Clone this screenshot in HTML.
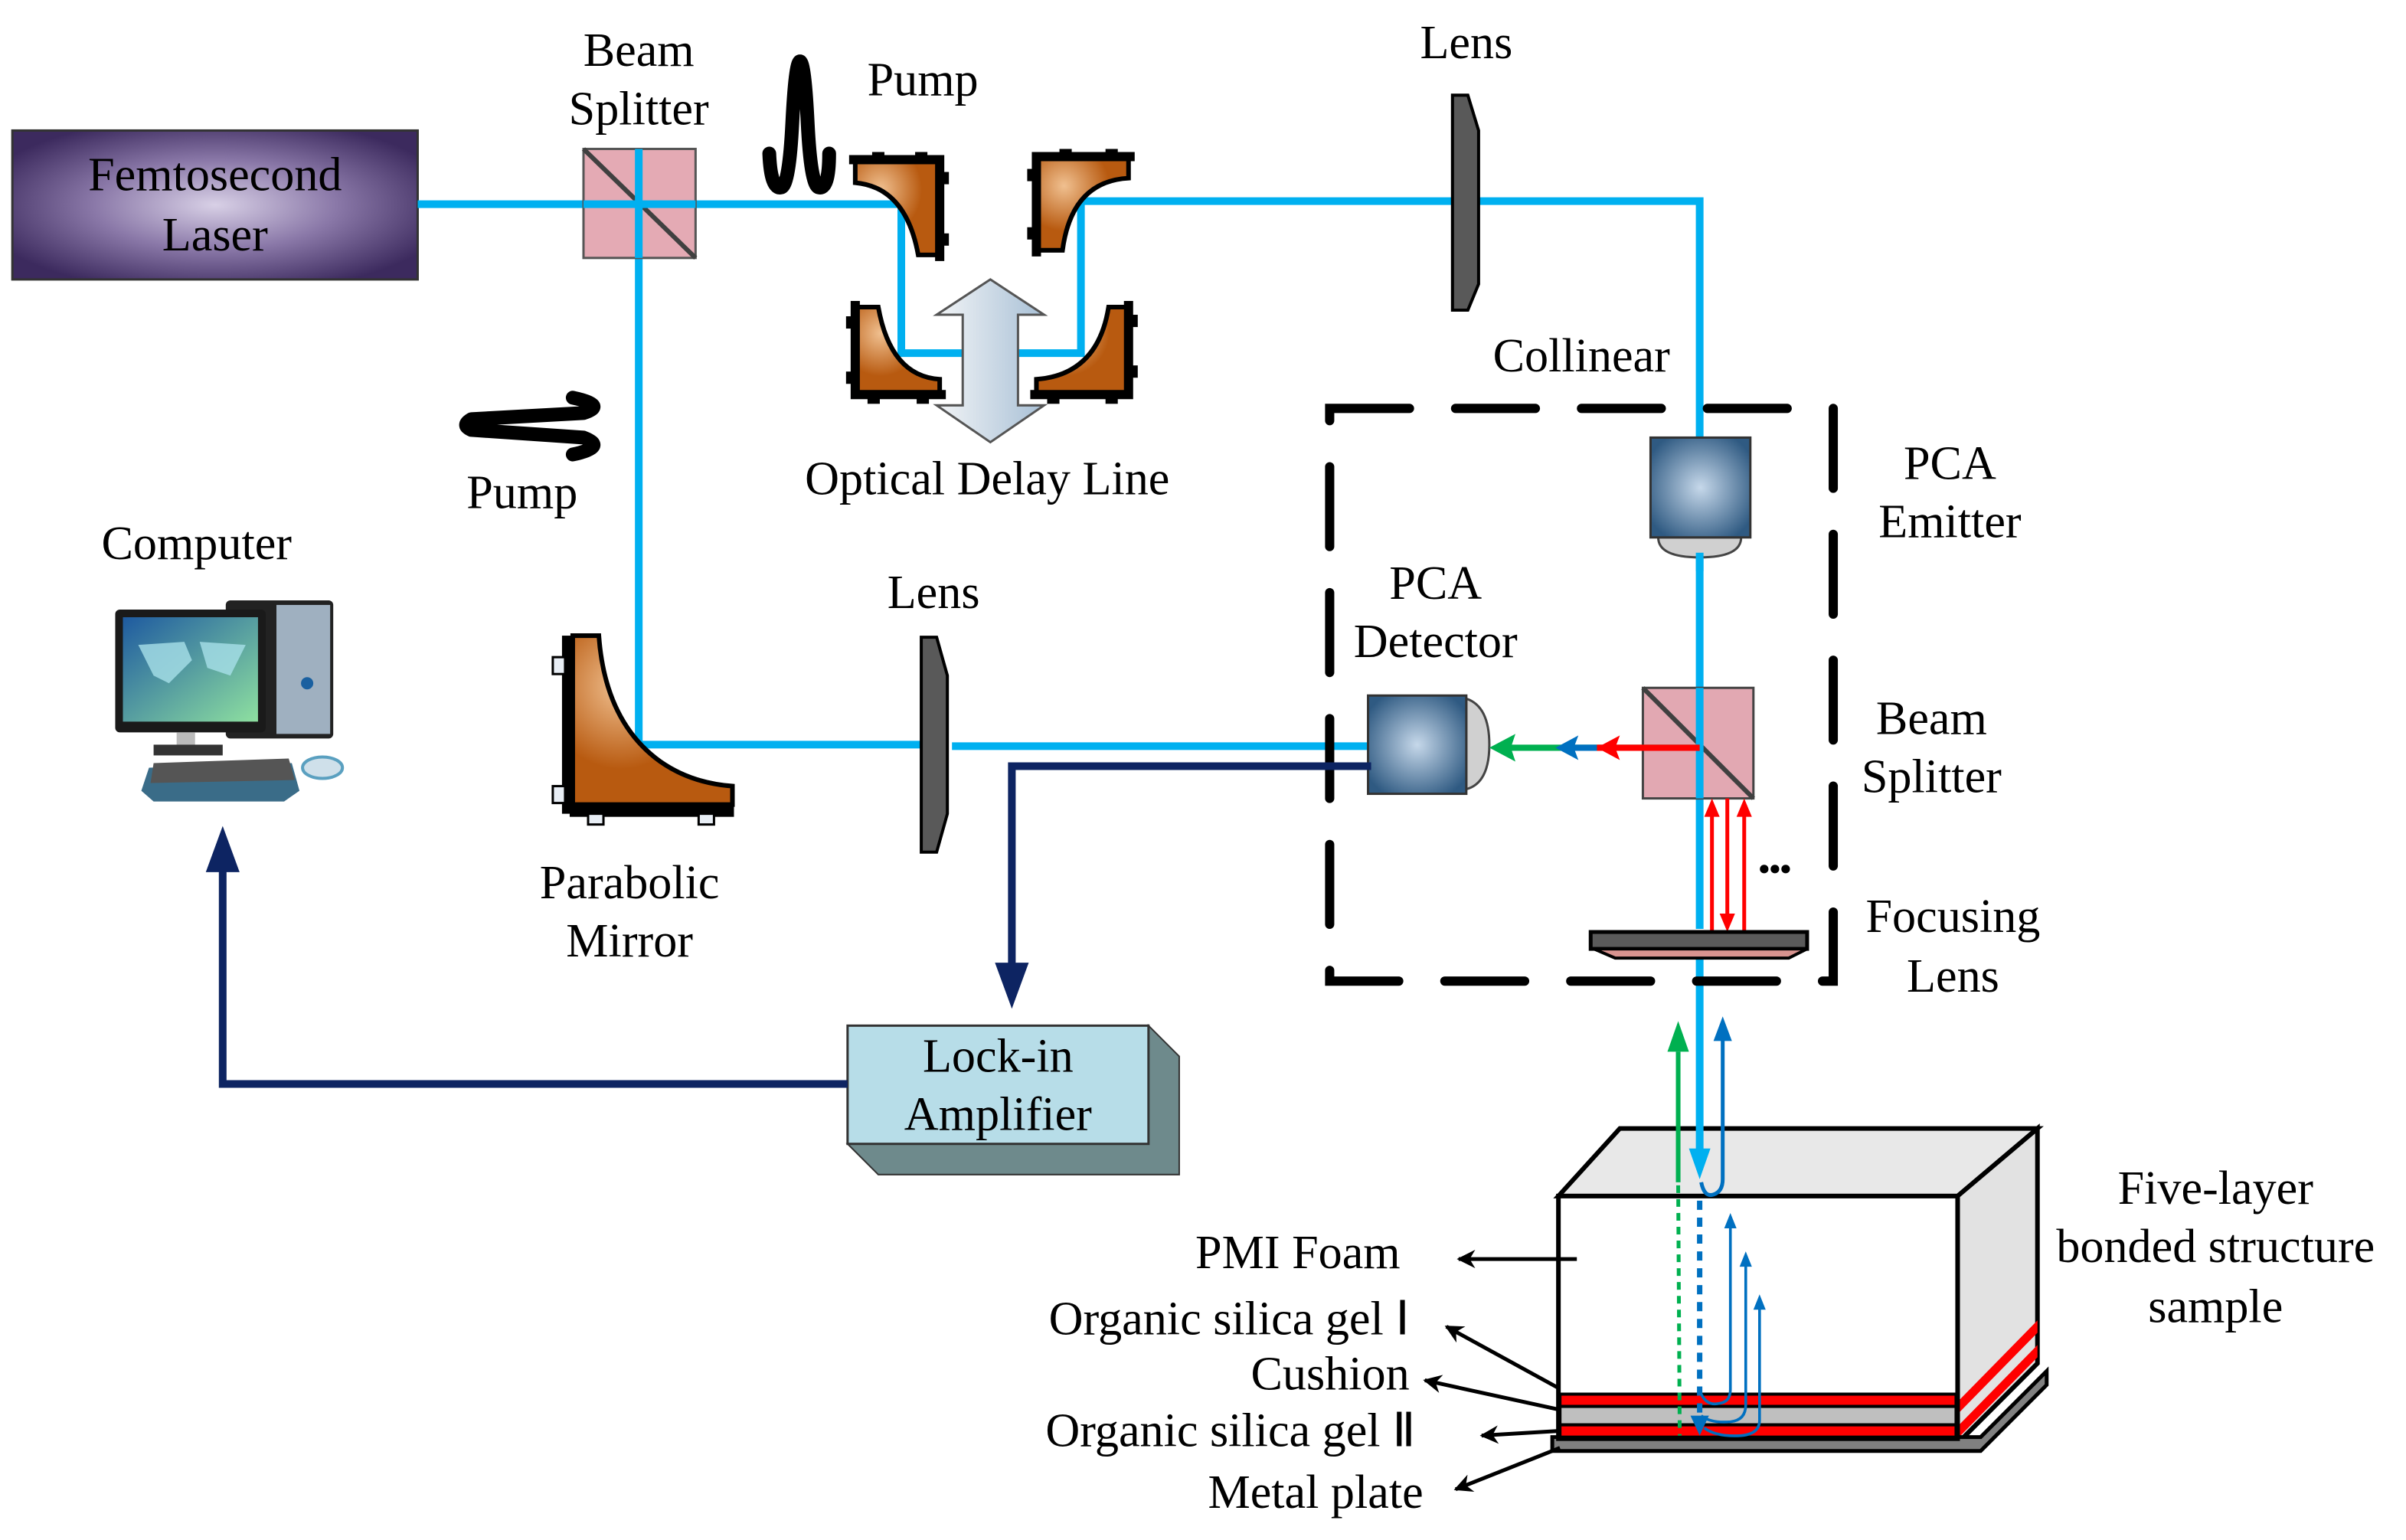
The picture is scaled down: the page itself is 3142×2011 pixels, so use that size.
<!DOCTYPE html>
<html><head><meta charset="utf-8"><style>html,body{margin:0;padding:0;background:#fff}svg{display:block}text{font-family:"Liberation Serif",serif;font-size:31px;fill:#000}</style></head>
<body>
<svg width="3142" height="2011" viewBox="0 0 1567 1003" xmlns="http://www.w3.org/2000/svg">
<defs>
<radialGradient id="laser" cx="50%" cy="50%" r="60%"><stop offset="0" stop-color="#d8d0e6"/><stop offset="0.5" stop-color="#8a78a8"/><stop offset="1" stop-color="#3c2a5e"/></radialGradient>
<radialGradient id="pca" cx="50%" cy="50%" r="60%"><stop offset="0" stop-color="#c6d8ea"/><stop offset="1" stop-color="#2f5a82"/></radialGradient>
<radialGradient id="cu" cx="30%" cy="30%" r="70%"><stop offset="0" stop-color="#f0c090"/><stop offset="0.7" stop-color="#b85a10"/></radialGradient>
<linearGradient id="arr" x1="0" x2="1"><stop offset="0" stop-color="#f2f4f6"/><stop offset="1" stop-color="#a8c0d6"/></linearGradient>
<linearGradient id="scr" x1="0" y1="0" x2="1" y2="1"><stop offset="0" stop-color="#1e5aa0"/><stop offset="1" stop-color="#8ee0a0"/></linearGradient>
<marker id="mk" viewBox="0 0 10 10" refX="9" refY="5" markerWidth="14" markerHeight="12" orient="auto-start-reverse" markerUnits="userSpaceOnUse"><path d="M0,0 L10,5 L0,10 L3,5Z" fill="#000"/></marker>
</defs>

<rect x="8" y="85" width="264" height="97" fill="url(#laser)" stroke="#333" stroke-width="1.5"/>
<text x="140" y="124" text-anchor="middle">Femtosecond</text>
<text x="140" y="163" text-anchor="middle">Laser</text>

<g stroke="#00b0f0" stroke-width="5" fill="none">
<polyline points="272,133 587,133 587,230 704,230 704,131 1107,131 1107,290"/>
<line x1="1107" y1="360" x2="1107" y2="605"/>
<line x1="1107" y1="622" x2="1107" y2="700"/>
<polyline points="416,133 416,485 600,485"/>
<line x1="620" y1="486" x2="893" y2="486"/>
</g>

<rect x="380" y="97" width="73" height="71" fill="#e4aab4" stroke="#555" stroke-width="1.5"/>
<line x1="380" y1="97" x2="453" y2="168" stroke="#404040" stroke-width="3"/>
<line x1="416" y1="97" x2="416" y2="168" stroke="#00b0f0" stroke-width="5"/>
<line x1="380" y1="133" x2="453" y2="133" stroke="#00b0f0" stroke-width="5"/>
<text x="416" y="43" text-anchor="middle">Beam</text>
<text x="416" y="81" text-anchor="middle">Splitter</text>

<path d="M501,100 Q502,124 509,122 Q514,120 516,80 Q518,40 521,40 Q524,40 526,80 Q528,120 533,122 Q540,124 540,100" stroke="#000" stroke-width="9" fill="none" stroke-linecap="round" stroke-linejoin="round"/>
<text x="601" y="62" text-anchor="middle">Pump</text>
<path d="M373,259 Q396,264 380,269 L307,273 Q300,277 307,280 L380,285 Q396,291 373,296" stroke="#000" stroke-width="9" fill="none" stroke-linecap="round" stroke-linejoin="round"/>
<text x="340" y="331" text-anchor="middle">Pump</text>

<g stroke="#000" stroke-width="3" fill="url(#cu)">
<path d="M557,105 L612,105 L612,166 L598,166 Q590,122 557,119Z"/>
<path d="M735,103 L675,103 L675,163 L692,163 Q698,118 735,116Z"/>
<path d="M557,200 L572,200 Q580,245 612,247 L612,257 L557,257Z"/>
<path d="M735,200 L722,200 Q715,244 675,247 L675,257 L735,257Z"/>
</g>
<g stroke="#000" stroke-width="6" fill="none" stroke-linecap="square">
<polyline points="556,104 612,104 612,167"/>
<polyline points="736,102 675,102 675,164"/>
<polyline points="557,199 557,257 613,257"/>
<polyline points="735,199 735,257 674,257"/>
</g>
<g fill="#000">
<rect x="568" y="99" width="8" height="6"/><rect x="596" y="99" width="8" height="6"/><rect x="612" y="112" width="6" height="8"/><rect x="612" y="152" width="6" height="8"/>
<rect x="690" y="97" width="8" height="6"/><rect x="720" y="97" width="8" height="6"/><rect x="669" y="110" width="6" height="8"/><rect x="669" y="148" width="6" height="8"/>
<rect x="551" y="206" width="6" height="8"/><rect x="551" y="242" width="6" height="8"/><rect x="565" y="257" width="8" height="6"/><rect x="597" y="257" width="8" height="6"/>
<rect x="735" y="205" width="6" height="8"/><rect x="735" y="238" width="6" height="8"/><rect x="682" y="257" width="8" height="6"/><rect x="720" y="257" width="8" height="6"/>
</g>
<path d="M645,182 L680,205 L663,205 L663,264 L680,264 L645,288 L610,264 L627,264 L627,205 L610,205Z" fill="url(#arr)" stroke="#555" stroke-width="1.5"/>
<text x="643" y="322" text-anchor="middle">Optical Delay Line</text>

<path d="M946,62 L956,62 L963,85 L963,185 L956,202 L946,202Z" fill="#595959" stroke="#000" stroke-width="2"/>
<text x="955" y="38" text-anchor="middle">Lens</text>
<path d="M600,415 L610,415 L617,440 L617,530 L610,555 L600,555Z" fill="#595959" stroke="#000" stroke-width="2"/>
<text x="608" y="396" text-anchor="middle">Lens</text>

<text x="1030" y="242" text-anchor="middle">Collinear</text>

<rect x="866" y="266" width="328" height="373" fill="none" stroke="#000" stroke-width="6" stroke-dasharray="52,30" stroke-linecap="round"/>

<path d="M1080,350 Q1080,363 1107,363 Q1134,363 1134,350Z" fill="#d0d0d0" stroke="#444" stroke-width="1.5"/>
<rect x="1075" y="285" width="65" height="65" fill="url(#pca)" stroke="#333" stroke-width="1.5"/>
<line x1="1107" y1="360" x2="1107" y2="372" stroke="#00b0f0" stroke-width="5"/>
<text x="1270" y="312" text-anchor="middle">PCA</text>
<text x="1270" y="350" text-anchor="middle">Emitter</text>

<path d="M955,455 Q970,460 970,485 Q970,510 955,514Z" fill="#d0d0d0" stroke="#444" stroke-width="1.5"/>
<rect x="891" y="453" width="64" height="64" fill="url(#pca)" stroke="#333" stroke-width="1.5"/>
<text x="935" y="390" text-anchor="middle">PCA</text>
<text x="935" y="428" text-anchor="middle">Detector</text>

<rect x="1070" y="448" width="72" height="72" fill="#e2a8b2" stroke="#444" stroke-width="1.5"/>
<line x1="1070" y1="448" x2="1142" y2="520" stroke="#404040" stroke-width="3"/>
<line x1="1107" y1="448" x2="1107" y2="520" stroke="#00b0f0" stroke-width="5"/>
<line x1="1107" y1="487" x2="975" y2="487" stroke="#00b050" stroke-width="4"/>
<line x1="1107" y1="487" x2="1040" y2="487" stroke="#ff0000" stroke-width="4"/>
<path d="M1040,487 L1055,479 L1052,487 L1055,495Z" fill="#ff0000"/>
<path d="M1013,487 L1028,479 L1025,487 L1028,495Z" fill="#0070c0"/>
<line x1="1025" y1="487" x2="1040" y2="487" stroke="#0070c0" stroke-width="4"/>
<path d="M970,487 L987,478 L984,487 L987,496Z" fill="#00b050"/>
<text x="1258" y="478" text-anchor="middle">Beam</text>
<text x="1258" y="516" text-anchor="middle">Splitter</text>

<g stroke="#ff0000" stroke-width="2.5"><line x1="1115" y1="530" x2="1115" y2="607"/><line x1="1125" y1="520" x2="1125" y2="598"/><line x1="1136" y1="530" x2="1136" y2="607"/></g>
<path d="M1115,520 L1110,532 L1120,532Z M1136,520 L1131,532 L1141,532Z M1125,607 L1120,595 L1130,595Z" fill="#ff0000"/>
<circle cx="1149" cy="566" r="2.8"/><circle cx="1156" cy="566" r="2.8"/><circle cx="1163" cy="566" r="2.8"/>

<rect x="1036" y="607" width="141" height="11" fill="#5a5a5a" stroke="#000" stroke-width="2.5"/>
<path d="M1038,618 L1177,618 L1165,624 L1052,624Z" fill="#d8938f" stroke="#000" stroke-width="2"/>
<text x="1272" y="607" text-anchor="middle">Focusing</text>
<text x="1272" y="646" text-anchor="middle">Lens</text>

<rect x="366" y="414" width="10" height="116" fill="#000"/>
<rect x="360" y="428" width="8" height="11" fill="#e8eef5" stroke="#000" stroke-width="1.5"/>
<rect x="360" y="512" width="8" height="11" fill="#e8eef5" stroke="#000" stroke-width="1.5"/>
<rect x="371" y="522" width="107" height="10" fill="#000"/>
<rect x="383" y="530" width="10" height="7" fill="#e8eef5" stroke="#000" stroke-width="1.5"/>
<rect x="455" y="530" width="10" height="7" fill="#e8eef5" stroke="#000" stroke-width="1.5"/>
<path d="M373,414 L390,414 Q394,470 430,496 Q450,510 477,512 L477,524 L373,524Z" fill="url(#cu)" stroke="#000" stroke-width="3"/>
<text x="410" y="585" text-anchor="middle">Parabolic</text>
<text x="410" y="623" text-anchor="middle">Mirror</text>

<text x="128" y="364" text-anchor="middle">Computer</text>
<rect x="147" y="391" width="70" height="90" rx="3" fill="#222"/>
<rect x="180" y="394" width="35" height="84" fill="#9fb0c0"/>
<circle cx="200" cy="445" r="4" fill="#1a60a0"/>
<rect x="75" y="397" width="98" height="80" rx="3" fill="#1a1a1a"/>
<rect x="80" y="402" width="88" height="68" fill="url(#scr)"/>
<path d="M90,420 L120,418 L125,430 L110,445 L100,440Z M130,418 L160,420 L150,440 L135,435Z" fill="#a8e0e8" opacity="0.8"/>
<rect x="115" y="477" width="12" height="10" fill="#bbb"/>
<rect x="100" y="485" width="45" height="7" fill="#333"/>
<path d="M97,500 L190,497 L195,515 L185,522 L100,522 L92,515Z" fill="#3a6c88"/>
<path d="M100,497 L188,494 L192,508 L98,510Z" fill="#555"/>
<ellipse cx="210" cy="500" rx="13" ry="7" fill="#cfe0ea" stroke="#5aa0c0" stroke-width="2"/>

<path d="M748,668 L768,688 L768,765 L572,765 L552,745 L748,745Z" fill="#6e8a8c" stroke="#333" stroke-width="1"/>
<rect x="552" y="668" width="196" height="77" fill="#b7dde8" stroke="#333" stroke-width="1.5"/>
<text x="650" y="698" text-anchor="middle">Lock-in</text>
<text x="650" y="736" text-anchor="middle">Amplifier</text>

<g stroke="#0d2462" stroke-width="5" fill="none"><polyline points="893,499 659,499 659,630"/><polyline points="552,706 145,706 145,565"/></g>
<path d="M659,657 L648,627 L670,627Z" fill="#0d2462"/>
<path d="M145,538 L134,568 L156,568Z" fill="#0d2462"/>

<path d="M1015,779 L1055,735 L1327,735 L1275,779Z" fill="#e8e8e8" stroke="#000" stroke-width="3"/>
<path d="M1275,779 L1327,735 L1327,888 L1275,940Z" fill="#e2e2e2" stroke="#000" stroke-width="3"/>
<path d="M1275,913 L1327,860 L1327,868 L1275,921Z" fill="#ff0000"/>
<path d="M1275,929 L1327,876 L1327,884 L1275,937Z" fill="#ff0000"/>
<path d="M1011,936 L1290,936 L1333,893 L1333,902 L1290,945 L1011,945Z" fill="#808080" stroke="#000" stroke-width="2.5"/>
<rect x="1015" y="779" width="260" height="158" fill="#fff" stroke="#000" stroke-width="3"/>
<rect x="1016" y="908" width="258" height="8" fill="#ff0000" stroke="#000" stroke-width="2"/>
<rect x="1016" y="916" width="258" height="12" fill="#bfbfbf" stroke="#000" stroke-width="2"/>
<rect x="1016" y="928" width="258" height="8" fill="#ff0000" stroke="#000" stroke-width="2"/>

<line x1="1093" y1="685" x2="1093" y2="770" stroke="#00b050" stroke-width="3"/>
<path d="M1093,665 L1086,685 L1100,685Z" fill="#00b050"/>
<line x1="1093" y1="772" x2="1094" y2="935" stroke="#00b050" stroke-width="2.5" stroke-dasharray="5,4"/>
<line x1="1107" y1="700" x2="1107" y2="760" stroke="#00b0f0" stroke-width="5"/>
<path d="M1107,768 L1100,748 L1114,748Z" fill="#00b0f0"/>
<path d="M1108,770 Q1110,780 1116,778 Q1122,776 1122,768 L1122,676" stroke="#0070c0" stroke-width="2.5" fill="none"/>
<path d="M1122,662 L1116,678 L1128,678Z" fill="#0070c0"/>
<line x1="1107" y1="782" x2="1107" y2="925" stroke="#0070c0" stroke-width="3.5" stroke-dasharray="6,5"/>
<path d="M1107,935 L1101,922 L1113,922Z" fill="#0070c0"/>
<g stroke="#0070c0" stroke-width="1.8" fill="none">
<path d="M1108,908 Q1112,916 1120,914 Q1127,913 1127,905 L1127,798"/>
<path d="M1108,922 Q1114,927 1127,926 Q1137,925 1137,915 L1137,822"/>
<path d="M1110,930 Q1118,936 1134,935 Q1146,934 1146,925 L1146,850"/>
</g>
<path d="M1127,790 L1123,800 L1131,800Z M1137,815 L1133,825 L1141,825Z M1146,843 L1142,853 L1150,853Z" fill="#0070c0"/>

<text x="912" y="826" text-anchor="end">PMI Foam</text>
<text x="918" y="869" text-anchor="end">Organic silica gel Ⅰ</text>
<text x="918" y="905" text-anchor="end">Cushion</text>
<text x="922" y="942" text-anchor="end">Organic silica gel Ⅱ</text>
<text x="927" y="982" text-anchor="end">Metal plate</text>
<g stroke="#000" stroke-width="2.5" fill="none" marker-end="url(#mk)">
<line x1="1027" y1="820" x2="950" y2="820"/>
<line x1="1015" y1="904" x2="942" y2="864"/>
<line x1="1015" y1="918" x2="928" y2="899"/>
<line x1="1015" y1="932" x2="965" y2="935"/>
<line x1="1016" y1="943" x2="948" y2="970"/>
</g>
<text x="1443" y="784" text-anchor="middle">Five-layer</text>
<text x="1443" y="822" text-anchor="middle">bonded structure</text>
<text x="1443" y="861" text-anchor="middle">sample</text>
</svg>
</body></html>
